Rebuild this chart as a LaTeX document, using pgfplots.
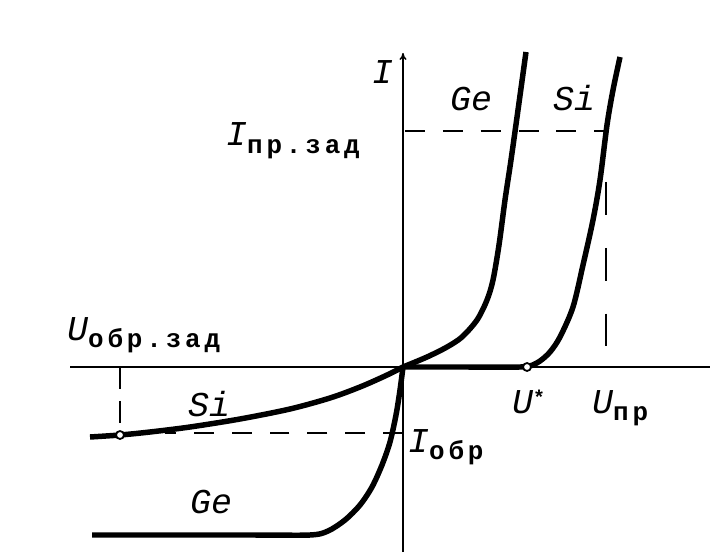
\documentclass[border=0pt]{standalone}
\usepackage{pgfplots}
\pgfplotsset{compat=1.18}
\usepackage{fontspec}
\usetikzlibrary{arrows.meta}
\newfontfamily\mono{Liberation Mono}
\newfontfamily\monosub[LetterSpace=15]{Liberation Mono}
\newcommand{\lbl}{\fontsize{35}{35}\selectfont\mono\itshape}
\newcommand{\sub}[1]{\raisebox{-8pt}{\fontsize{26}{26}\selectfont\monosub\upshape\bfseries #1}}
\newcommand{\supstar}{\raisebox{9pt}{\fontsize{20}{20}\selectfont\mono\upshape\bfseries *}}
\begin{document}
\begin{tikzpicture}
\begin{axis}[
  width=720bp, height=560bp, scale only axis,
  xmin=0, xmax=720, ymin=0, ymax=560, y dir=reverse,
  axis lines=none, clip=false,
]
% keep the full frame as the page
\path (rel axis cs:0,0) rectangle (rel axis cs:1,1);
% axes
\addplot[black, line width=1.5pt] coordinates {(70,367) (710,367)};
\addplot[black, line width=1.5pt, -{To[length=7pt,width=7pt]}] coordinates {(403,552) (403,53)};
% dashed helpers
\addplot[black, line width=2.5pt, dash pattern=on 20pt off 18pt] coordinates {(405,131) (605,131)};
\addplot[black, line width=2pt, dash pattern=on 33pt off 33pt] coordinates {(606,182) (606,367)};
\addplot[black, line width=2.5pt, dash pattern=on 20pt off 18pt] coordinates {(403,433) (165,433)};
\addplot[black, line width=2pt, dash pattern=on 22pt off 12pt] coordinates {(120,367) (120,435)};
% Ge forward
\addplot[black, line width=5.5pt, smooth] coordinates {
 (403,367) (427,357) (447,347) (462,337) (477,320) (487,300) (493,280) (499,245) (505,200) (511,160) (518,110) (526,52)};
% Ge reverse
\addplot[black, line width=5.5pt, smooth] coordinates {
 (403,367) (400,390) (396,415) (390,442) (382,465) (372,487) (360,505) (345,520) (328,531) (310,535) (250,535) (92,535)};
% Si reverse
\addplot[black, line width=5.5pt, smooth] coordinates {
 (403,367) (385,376) (360,387) (330,398) (290,409) (240,419) (190,427) (150,432) (120,435) (90,437)};
% Si forward
\addplot[black, line width=5.5pt, smooth] coordinates {
 (403,367) (460,367) (520,367) (530,366) (540,361) (550,352) (560,337) (573,307) (583,265) (593,220) (600,180) (607,125) (613,90) (620,57)};
% markers
\addplot[only marks, mark=*, mark size=4pt, mark options={fill=white, draw=black, line width=1.8pt}] coordinates {(120,435) (527,367)};
% labels
\node[anchor=base west, inner sep=0pt] at (axis cs:372,84) {\lbl I};
\node[anchor=base west, inner sep=0pt] at (axis cs:450,111) {\lbl Ge};
\node[anchor=base west, inner sep=0pt] at (axis cs:553,111) {\lbl Si};
\node[anchor=base west, inner sep=0pt] at (axis cs:226,146) {\lbl I\sub{пр.зад}};
\node[anchor=base west, inner sep=0pt] at (axis cs:67,340) {\lbl U\sub{обр.зад}};
\node[anchor=base west, inner sep=0pt] at (axis cs:188,416) {\lbl Si};
\node[anchor=base west, inner sep=0pt] at (axis cs:190,513) {\lbl Ge};
\node[anchor=base west, inner sep=0pt] at (axis cs:408,452) {\lbl I\sub{обр}};
\node[anchor=base west, inner sep=0pt] at (axis cs:512,413) {\lbl U\supstar};
\node[anchor=base west, inner sep=0pt] at (axis cs:592,413) {\lbl U\sub{пр}};
\end{axis}
\end{tikzpicture}
\end{document}
